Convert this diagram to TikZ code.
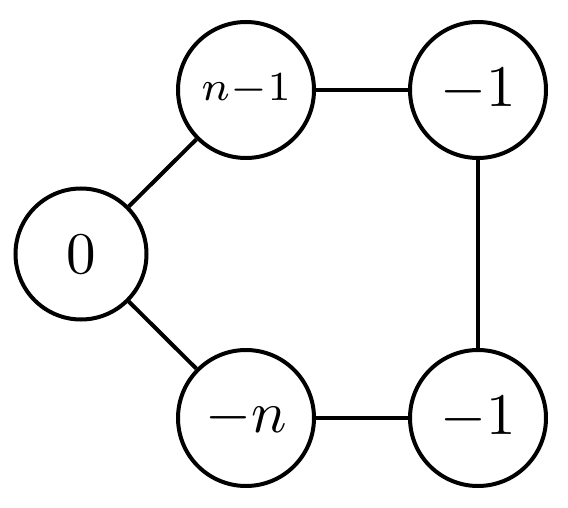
\documentclass[tikz,border=0pt]{standalone}
\usepackage{graphicx}
\newcommand{\bigtxt}[1]{\scalebox{5.9}{#1}}
\newcommand{\smalltxt}[1]{\scalebox{5.9}{#1}}
\begin{document}
\begin{tikzpicture}[x=1pt,y=-1pt,
  vtx/.style={circle,draw=black,line width=4pt,minimum size=136pt,inner sep=0pt},
  edge/.style={line width=4pt}]
\useasboundingbox (0,0) rectangle (568,508);
\node[vtx,minimum size=131pt] (z) at (81,254) {\bigtxt{$0$}};
\node[vtx] (a) at (246,90) {\smalltxt{$\scriptstyle n-1$}};
\node[vtx] (b) at (478,90) {\bigtxt{$-1$}};
\node[vtx] (c) at (246,418) {\bigtxt{$-n$}};
\node[vtx] (d) at (478,418) {\bigtxt{$-1$}};
\draw[edge] (z) -- (a);
\draw[edge] (a) -- (b);
\draw[edge] (b) -- (d);
\draw[edge] (d) -- (c);
\draw[edge] (c) -- (z);
\end{tikzpicture}
\end{document}
